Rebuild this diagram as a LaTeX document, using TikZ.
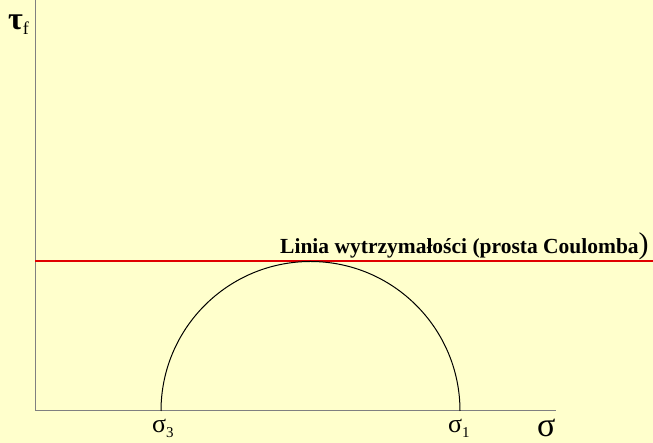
\documentclass[tikz,border=0pt]{standalone}
\usepackage{fontspec}
\setmainfont{Liberation Serif}
\usepackage{xcolor}
\usepackage{tikz}
\definecolor{mcpaper}{HTML}{FFFFCC}
\definecolor{mcred}{HTML}{E00000}
\tikzset{
  mcaxis/.style={line width=1pt, draw=black!50},
  mcline/.style={line width=1.2pt, draw=mcred},
  mccircle/.style={line width=1pt, draw=black},
  mclabel/.style={inner sep=0pt, font=\fontsize{26}{26}\selectfont},
}

\begin{document}
\begin{tikzpicture}[x=1pt,y=1pt]
\fill[mcpaper] (0,0) rectangle (653,443);
\useasboundingbox (0,0) rectangle (653,443);
\coordinate (o) at (35,32);
\coordinate (ytop) at (35,443);
\coordinate (xend) at (556,32);
\coordinate (s3) at (161,32);
\coordinate (s1) at (460,32);
\coordinate (fl) at (35,182);
\coordinate (fr) at (653,182);
\draw[mcaxis] (ytop) -- (o) -- (xend);
\draw[mcline] (fl) -- (fr);
\draw[mccircle] (s1) arc[start angle=0, end angle=180, radius=149.5];
\node[mclabel, anchor=base west] (tau) at (8,413) {\fontsize{32}{32}\selectfont\bfseries τ\raisebox{-5pt}{\fontsize{18}{18}\selectfont\mdseries f}};
\node[mclabel, anchor=base west] (lab3) at (152,10) {σ\raisebox{-5pt}{\fontsize{15}{15}\selectfont 3}};
\node[mclabel, anchor=base west] (lab1) at (448,10) {σ\raisebox{-5pt}{\fontsize{15}{15}\selectfont 1}};
\node[mclabel, anchor=base west] (sig) at (537,6) {\fontsize{34}{34}\selectfont σ};
\node[inner sep=0pt, anchor=base west] (coul) at (280,189)
  {\fontsize{21.5}{21.5}\selectfont\bfseries Linia wytrzymałości (prosta Coulomba\fontsize{30}{30}\selectfont\mdseries )};
\end{tikzpicture}
\end{document}
